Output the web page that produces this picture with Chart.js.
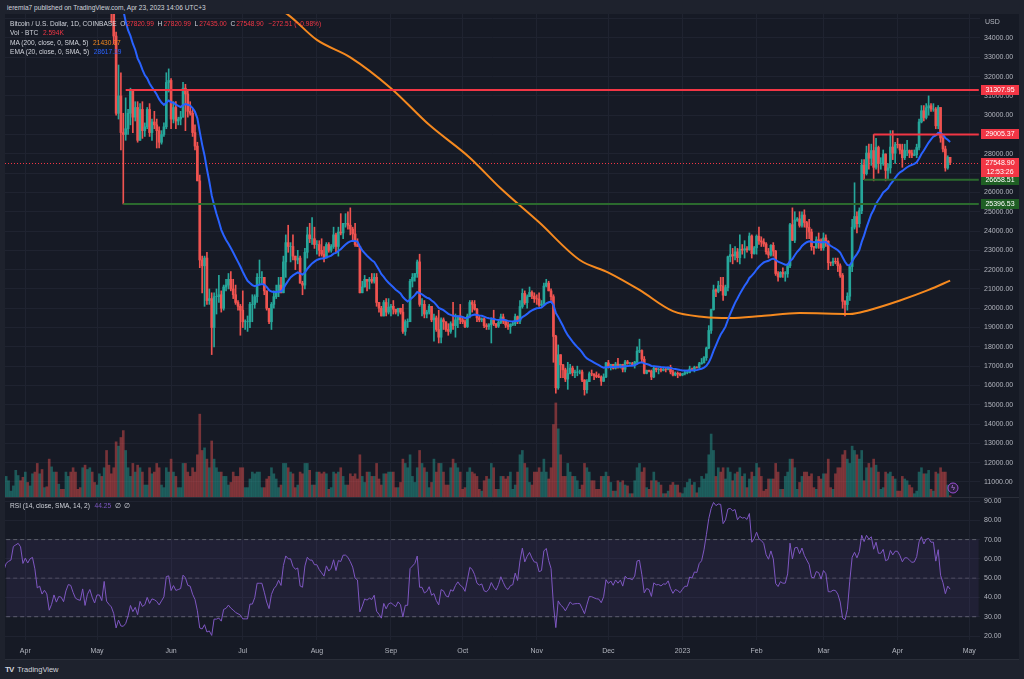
<!DOCTYPE html>
<html>
<head>
<meta charset="utf-8">
<title>Bitcoin / U.S. Dollar, 1D, COINBASE</title>
<script src="https://cdn.jsdelivr.net/npm/chart.js@4.4.1/dist/chart.umd.min.js"></script>
<style>
  body{margin:0;width:1024px;height:679px;overflow:hidden;background:#1e222d;position:relative;font-family:"Liberation Sans",Arial,sans-serif;}
  #head{position:absolute;left:7px;top:3px;font-size:6.6px;line-height:9px;color:#d1d4dc;}
  #frame{position:absolute;left:5px;top:14px;width:1014px;height:645px;background:#161a25;border-bottom:1px solid #2a2e39;}
  #priceWrap{position:absolute;left:0;top:0;width:1014px;height:484px;}
  #rsiWrap{position:absolute;left:0;top:484px;width:1014px;height:161px;}
  #sep{position:absolute;left:0;top:483px;width:1014px;height:1px;background:#2a2e39;}
  .lg{position:absolute;left:5px;font-size:6.6px;line-height:9px;color:#d1d4dc;white-space:nowrap;}
  .lg i{font-style:normal;margin-left:1px;}
  .red{color:#f23645;} .org{color:#f5891f;} .blu{color:#2962ff;} .pur{color:#7e57c2;}
  #foot{position:absolute;left:5px;top:665px;font-size:7.5px;line-height:10px;color:#d1d4dc;}
  #foot b{font-size:8px;letter-spacing:-1px;margin-right:4px;}
</style>
</head>
<body>
<div id="head">ieremia7 published on TradingView.com, Apr 23, 2023 14:06 UTC+3</div>
<div id="frame">
  <div id="priceWrap"><canvas id="priceChart" width="1014" height="484"></canvas></div>
  <div id="rsiWrap"><canvas id="rsiChart" width="1014" height="161"></canvas></div>
  <div id="sep"></div>
  <div class="lg" style="top:5px">Bitcoin / U.S. Dollar, 1D, COINBASE &nbsp;O<i class="red">27820.99</i> &nbsp;H<i class="red">27820.99</i> &nbsp;L<i class="red">27435.00</i> &nbsp;C<i class="red">27548.90</i> &nbsp;<i class="red">−272.51 (−0.98%)</i></div>
  <div class="lg" style="top:14px">Vol · BTC &nbsp;<i class="red">2.594K</i></div>
  <div class="lg" style="top:23.5px">MA (200, close, 0, SMA, 5) &nbsp;<i class="org">21430.37</i></div>
  <div class="lg" style="top:33px">EMA (20, close, 0, SMA, 5) &nbsp;<i class="blu">28617.19</i></div>
  <div class="lg" style="top:487px">RSI (14, close, SMA, 14, 2) &nbsp;<i class="pur">44.25</i> &nbsp;∅ &nbsp;∅</div>
</div>
<div id="foot"><b>TV</b>TradingView</div>

<script>
// daily candles, first one is 2022-03-09, values in thousands of USD
var firstDate = Date.UTC(2022, 2, 9);
var firstOpen = 38.7;

var closes = [
  41.9, 39.4, 38.7, 38.8, 37.8, 39.7, 39.3, 41.1, 40.9, 41.8, 42.2, 41.3, 41.0, 42.4, 42.9, 44.0, 44.3, 44.5, 46.8, 47.1, 47.4, 47.1, 45.5,
  46.3, 45.8, 46.4, 46.6, 45.5, 43.2, 43.4, 42.3, 42.7, 42.2, 39.5, 40.1, 41.1, 39.9, 40.5, 40.4, 39.7, 40.8, 41.5, 41.4, 40.5, 39.7, 39.5, 39.4, 40.4, 38.1, 39.2, 39.7, 38.6, 37.7,
  38.5, 38.5, 37.7, 39.7, 36.6, 36.0, 35.5, 34.1, 30.1, 31.0, 29.1, 29.0, 29.3, 30.1, 31.3, 29.9, 30.4, 28.7, 30.3, 29.2, 29.4, 30.3, 29.1, 29.65, 29.5, 29.2, 28.6, 29.0, 29.4, 31.7, 31.8,
  29.8, 30.4, 29.7, 29.8, 29.9, 31.4, 31.1, 30.2, 30.1, 29.1, 28.4, 26.6, 22.5, 22.2, 22.6, 20.4, 20.5, 19.0, 20.6, 20.6, 20.7, 20.0, 21.1, 21.2, 21.5, 21.0, 20.7, 20.3, 20.1, 19.9,
  19.3, 19.3, 19.3, 20.2, 20.2, 20.6, 21.6, 21.6, 21.6, 20.9, 20.0, 19.3, 20.2, 20.6, 20.8, 21.2, 20.8, 22.4, 23.4, 23.2, 23.2, 22.7, 22.5, 22.6, 21.3, 21.2, 22.9, 23.8, 23.6, 23.6, 23.3,
  23.3, 23.0, 22.8, 22.6, 23.3, 23.0, 23.2, 23.8, 23.2, 23.95, 23.9, 24.4, 24.4, 24.3, 24.1, 23.85, 23.3, 23.2, 20.8, 21.1, 21.5, 21.4, 21.5, 21.4, 21.6, 20.3, 20.0, 19.6, 20.3, 19.8, 20.05,
  20.1, 19.95, 19.8, 20.0, 19.8, 18.8, 19.3, 19.3, 21.4, 21.6, 21.8, 22.4, 20.2, 20.2, 19.7, 19.8, 20.1, 19.4, 19.5, 18.9, 18.5, 19.4, 19.3, 18.9, 18.8, 19.2, 19.1, 19.4, 19.6, 19.4,
  19.3, 19.05, 19.6, 20.3, 20.2, 19.95, 19.5, 19.4, 19.45, 19.1, 19.05, 19.15, 19.4, 19.2, 19.07, 19.26, 19.55, 19.33, 19.13, 19.05, 19.17, 19.2, 19.57, 19.33, 20.09, 20.77, 20.29, 20.6, 20.82, 20.63, 20.49,
  20.48, 20.16, 20.21, 21.15, 21.3, 20.9, 20.6, 18.54, 15.88, 17.59, 17.07, 16.81, 16.33, 16.62, 16.9, 16.66, 16.69, 16.7, 16.7, 16.28, 15.78, 16.2, 16.61, 16.6, 16.52, 16.46, 16.44, 16.22, 16.44, 17.17,
  16.98, 17.09, 16.89, 17.11, 16.97, 17.09, 16.84, 17.22, 17.13, 17.13, 17.09, 17.21, 17.78, 17.81, 17.36, 16.63, 16.78, 16.74, 16.44, 16.9, 16.82, 16.83, 16.78, 16.84, 16.83, 16.92, 16.7, 16.54, 16.63, 16.6, 16.54,
  16.61, 16.67, 16.67, 16.85, 16.83, 16.95, 16.94, 17.12, 17.18, 17.44, 17.94, 18.85, 19.93, 20.95, 20.87, 21.17, 21.16, 20.68, 21.07, 22.67, 22.78, 22.71, 22.92, 22.62, 23.06, 23.01, 23.08, 23.03, 23.74, 22.83, 23.13,
  23.73, 23.49, 23.43, 23.33, 22.93, 22.76, 23.26, 22.96, 21.8, 21.62, 21.86, 21.78, 21.78, 22.2, 24.33, 23.52, 24.57, 24.63, 24.29, 24.83, 24.44, 24.19, 23.95, 23.19, 23.15, 23.55, 23.49, 23.13,
  23.64, 23.47, 22.36, 22.35, 22.43, 22.41, 22.2, 21.7, 20.36, 20.19, 20.62, 22.16, 24.2, 24.75, 24.38, 25.05, 27.42, 26.97, 28.04, 27.77, 28.17, 27.3, 28.33, 27.49, 27.49, 27.99, 27.14, 27.27, 28.35, 28.03, 28.48,
  28.47, 28.2, 27.8, 28.17, 28.17, 28.04, 27.92, 27.95, 28.33, 29.65, 30.23, 29.88, 30.39, 30.49, 30.32, 30.32, 29.45, 30.4, 28.82, 28.25, 27.27, 27.821, 27.5489
];

var highs = [
  42.6, 42.0, 39.9, 39.3, 39.0, 39.9, 39.9, 41.7, 41.4, 42.3, 42.4, 42.3, 41.5, 43.3, 43.0, 44.2, 44.8, 44.8, 46.9, 48.2, 48.1, 47.6, 47.6,
  46.7, 47.2, 47.0, 46.9, 47.2, 45.5, 43.9, 43.9, 42.8, 43.0, 42.4, 40.7, 41.5, 41.5, 40.9, 40.7, 40.6, 41.1, 41.8, 42.2, 42.9, 40.8, 39.9, 39.9, 40.6, 40.8, 39.4, 40.4, 39.9, 38.8,
  38.7, 39.2, 38.6, 40.0, 39.8, 36.6, 36.1, 35.5, 34.3, 32.6, 32.2, 30.1, 30.9, 30.3, 31.4, 31.3, 30.7, 30.7, 30.6, 30.7, 29.6, 30.4, 30.6, 29.8, 30.2, 29.8, 29.4, 29.2, 29.6, 32.2, 32.4,
  31.9, 30.7, 30.7, 29.9, 30.2, 31.7, 31.6, 31.3, 30.7, 30.3, 29.5, 28.6, 26.9, 22.7, 22.7, 22.9, 21.0, 20.8, 20.8, 21.0, 21.7, 20.9, 21.2, 21.5, 21.8, 21.9, 21.5, 21.2, 20.4, 20.2,
  20.9, 19.4, 19.6, 20.3, 20.7, 20.7, 21.8, 22.5, 21.9, 21.6, 20.9, 20.0, 20.3, 20.9, 21.2, 21.6, 21.6, 22.7, 23.8, 24.3, 23.4, 23.8, 22.7, 23.0, 22.7, 21.4, 23.1, 24.2, 24.4, 24.7, 24.2,
  23.5, 23.5, 23.6, 23.2, 23.4, 23.4, 23.3, 24.2, 23.9, 24.2, 24.9, 24.4, 24.9, 25.0, 25.2, 24.2, 24.4, 23.6, 23.2, 21.4, 21.7, 21.5, 21.6, 21.8, 21.8, 21.8, 20.3, 20.1, 20.4, 20.5, 20.5,
  20.2, 20.4, 19.95, 20.0, 20.0, 20.2, 19.4, 19.45, 21.5, 21.8, 21.8, 22.5, 22.8, 20.5, 20.4, 19.9, 20.2, 20.1, 19.7, 19.6, 19.9, 19.5, 19.5, 19.3, 19.2, 19.3, 20.3, 19.7, 19.6, 20.2,
  19.5, 19.4, 19.7, 20.4, 20.4, 20.4, 20.0, 19.6, 19.5, 19.5, 19.2, 19.2, 19.5, 19.9, 19.2, 19.4, 19.7, 19.7, 19.4, 19.3, 19.2, 19.3, 19.7, 19.6, 20.4, 21.0, 20.9, 20.7, 21.1, 20.9, 20.8,
  20.7, 20.8, 20.4, 21.3, 21.5, 21.4, 21.0, 20.7, 18.6, 18.1, 17.6, 17.1, 16.9, 17.2, 17.1, 17.0, 16.8, 17.0, 16.8, 16.8, 16.3, 16.3, 16.7, 16.8, 16.6, 16.7, 16.6, 16.5, 16.6, 17.2,
  17.3, 17.1, 17.1, 17.2, 17.4, 17.1, 17.1, 17.3, 17.3, 17.2, 17.2, 17.25, 18.0, 18.4, 17.85, 17.5, 16.8, 16.8, 16.8, 17.0, 16.9, 16.9, 16.9, 16.9, 16.9, 16.95, 17.05, 16.8, 16.7, 16.7, 16.65,
  16.63, 16.76, 16.8, 17.0, 16.9, 17.0, 16.97, 17.2, 17.4, 17.5, 17.99, 19.1, 19.96, 21.2, 21.0, 21.4, 21.6, 21.6, 21.2, 22.7, 23.3, 23.1, 23.2, 23.1, 23.8, 23.3, 23.5, 23.2, 23.9, 23.8, 23.2,
  23.8, 24.2, 23.7, 23.6, 23.4, 23.1, 23.3, 23.4, 23.0, 21.9, 21.9, 22.1, 21.9, 22.3, 24.4, 25.2, 25.0, 24.7, 25.0, 25.0, 25.1, 24.5, 24.6, 24.1, 23.2, 23.7, 23.9, 23.6,
  23.9, 23.8, 23.5, 22.4, 22.6, 22.6, 22.6, 22.3, 21.8, 20.4, 20.8, 22.2, 24.6, 26.5, 25.0, 25.2, 27.7, 27.7, 28.4, 28.5, 28.5, 29.0, 28.8, 28.4, 27.8, 28.2, 28.0, 27.5, 29.2, 29.2, 28.6,
  28.8, 28.5, 28.5, 28.5, 28.7, 28.2, 28.2, 28.2, 28.5, 29.8, 30.5, 30.5, 30.6, 31.0, 30.6, 30.6, 30.4, 30.5, 30.4, 29.0, 28.4, 27.9, 27.821
];

var lows = [
  38.6, 38.6, 38.2, 38.7, 37.6, 37.6, 38.2, 39.0, 40.2, 40.5, 41.7, 41.0, 40.5, 40.9, 41.8, 42.6, 43.6, 44.1, 44.4, 46.6, 46.9, 46.5, 45.2,
  44.2, 45.5, 45.5, 45.3, 45.4, 43.1, 42.7, 42.1, 42.1, 42.1, 39.2, 39.2, 39.6, 39.6, 39.8, 39.9, 39.6, 38.6, 40.6, 40.9, 39.8, 39.2, 39.3, 38.2, 38.2, 37.8, 37.7, 38.9, 38.2, 37.6,
  37.4, 38.0, 37.5, 37.7, 35.6, 35.3, 34.8, 33.7, 30.0, 29.8, 28.2, 25.4, 28.7, 29.0, 29.5, 29.1, 29.7, 28.6, 28.7, 28.8, 28.9, 29.3, 28.9, 28.7, 29.3, 28.3, 28.3, 28.5, 28.9, 29.3, 31.2,
  29.3, 29.6, 29.3, 29.5, 29.5, 29.9, 29.2, 29.9, 30.0, 28.9, 28.2, 26.6, 22.1, 20.8, 20.1, 20.2, 20.2, 17.6, 18.0, 19.7, 20.3, 19.8, 19.9, 20.9, 21.0, 20.9, 20.5, 20.2, 19.9, 18.6,
  19.0, 18.9, 18.8, 19.0, 19.3, 20.0, 20.3, 21.2, 21.3, 20.7, 19.9, 19.2, 18.9, 20.0, 20.5, 20.6, 20.8, 20.8, 21.6, 22.9, 22.4, 22.5, 22.0, 22.3, 21.3, 20.7, 21.0, 22.6, 23.4, 23.3, 23.1,
  22.8, 22.7, 22.7, 22.4, 22.6, 22.9, 22.9, 23.1, 22.9, 22.7, 23.8, 23.6, 24.2, 24.1, 23.8, 23.5, 23.2, 23.2, 20.8, 20.8, 21.1, 20.9, 21.0, 21.3, 21.3, 20.1, 19.8, 19.6, 19.6, 19.6, 19.7,
  19.6, 19.7, 19.7, 19.6, 19.7, 18.7, 18.6, 19.0, 19.3, 21.1, 21.4, 21.6, 20.1, 19.6, 19.5, 19.5, 19.7, 19.3, 18.3, 18.8, 18.2, 18.2, 18.9, 18.8, 18.6, 18.7, 18.9, 18.5, 19.0, 19.2,
  19.2, 19.0, 19.0, 19.5, 19.8, 19.9, 19.3, 19.3, 19.3, 19.0, 18.9, 18.9, 18.2, 19.1, 19.0, 19.0, 19.2, 19.2, 19.0, 18.9, 18.7, 19.1, 19.1, 19.2, 19.2, 20.0, 20.2, 20.0, 20.6, 20.5, 20.3,
  20.2, 20.1, 20.1, 20.2, 21.1, 20.9, 20.4, 17.2, 15.6, 15.8, 16.4, 16.4, 16.2, 15.8, 16.6, 16.5, 16.4, 16.5, 16.6, 16.2, 15.5, 15.6, 16.2, 16.5, 16.3, 16.4, 16.4, 16.0, 16.2, 16.4,
  16.9, 16.8, 16.85, 16.85, 16.9, 16.9, 16.7, 16.7, 17.1, 17.1, 17.05, 16.9, 17.1, 17.7, 17.2, 16.6, 16.6, 16.7, 16.3, 16.4, 16.7, 16.6, 16.7, 16.75, 16.7, 16.8, 16.6, 16.5, 16.5, 16.4, 16.5,
  16.5, 16.55, 16.6, 16.65, 16.8, 16.7, 16.9, 16.9, 17.1, 17.15, 17.3, 17.9, 18.7, 19.9, 20.6, 20.8, 20.9, 20.4, 20.65, 20.9, 22.4, 22.3, 22.5, 22.4, 22.3, 22.8, 22.6, 22.9, 23.0, 22.6, 22.8,
  22.8, 23.3, 23.2, 23.2, 22.8, 22.6, 22.7, 22.7, 21.7, 21.4, 21.6, 21.6, 21.4, 21.6, 22.1, 23.5, 23.4, 24.5, 24.2, 24.2, 24.2, 23.6, 23.6, 23.0, 22.8, 23.1, 23.1, 23.0,
  23.0, 23.2, 22.0, 22.2, 22.2, 22.3, 21.9, 21.6, 20.0, 19.6, 19.9, 20.4, 21.9, 24.1, 23.9, 24.2, 24.9, 26.66, 26.9, 27.2, 27.4, 26.6, 27.2, 27.0, 27.2, 27.4, 26.6, 26.7, 27.0, 27.7, 27.5,
  28.3, 28.0, 27.3, 27.7, 27.9, 27.8, 27.8, 27.9, 27.8, 28.2, 29.6, 29.7, 29.8, 30.0, 30.2, 30.2, 29.3, 29.3, 28.6, 28.1, 27.1, 27.2, 27.435
];

// volume in thousands of BTC
var volumes = [
  40, 35, 30, 10, 12, 30, 28, 35, 25, 30, 12, 12, 25, 30, 25, 25, 20, 8, 14, 32, 26, 20, 24,
  30, 18, 14, 28, 30, 40, 28, 33, 12, 13, 45, 36, 30, 30, 16, 10, 10, 30, 25, 30, 35, 30, 10, 12, 35, 38, 33, 35, 30, 18,
  15, 28, 25, 35, 55, 38, 28, 35, 65, 60, 70, 78, 55, 35, 25, 40, 30, 38, 35, 30, 15, 15, 35, 28, 30, 40, 35, 15, 12, 35, 30,
  45, 30, 25, 12, 12, 40, 40, 30, 25, 35, 30, 50, 97, 55, 58, 45, 35, 66, 45, 35, 30, 30, 25, 25, 15, 18, 30, 25, 25, 35,
  35, 12, 12, 22, 30, 28, 30, 30, 12, 12, 22, 25, 35, 28, 22, 12, 15, 40, 40, 35, 30, 28, 12, 15, 30, 28, 40, 40, 32, 15, 15,
  30, 30, 28, 30, 28, 10, 12, 30, 28, 30, 35, 25, 15, 15, 28, 25, 28, 22, 50, 25, 18, 30, 30, 25, 25, 40, 22, 15, 28, 28, 30,
  30, 30, 12, 12, 18, 45, 40, 35, 50, 25, 18, 35, 55, 40, 35, 30, 12, 18, 45, 30, 40, 40, 30, 15, 15, 35, 45, 40, 35, 30,
  10, 12, 30, 35, 30, 28, 25, 10, 8, 20, 25, 22, 40, 35, 10, 10, 25, 25, 22, 25, 30, 10, 15, 30, 50, 55, 40, 35, 18, 15, 30,
  30, 35, 30, 45, 30, 22, 35, 85, 110, 80, 50, 25, 25, 40, 30, 25, 25, 20, 10, 15, 40, 35, 30, 20, 20, 10, 10, 25, 25, 30,
  25, 18, 8, 8, 20, 18, 20, 15, 14, 5, 5, 20, 35, 40, 30, 35, 12, 10, 20, 30, 20, 18, 15, 5, 5, 8, 15, 18, 15, 15, 6,
  5, 12, 18, 22, 15, 18, 6, 12, 25, 22, 28, 50, 74, 55, 25, 35, 30, 35, 22, 35, 30, 20, 28, 30, 35, 25, 28, 12, 22, 30, 25,
  40, 35, 25, 8, 10, 22, 22, 22, 40, 30, 10, 10, 25, 30, 45, 45, 35, 10, 18, 25, 30, 30, 25, 28, 12, 10, 25, 22,
  28, 28, 45, 12, 10, 28, 35, 35, 50, 55, 45, 40, 60, 55, 50, 45, 55, 20, 35, 40, 35, 45, 38, 30, 10, 12, 30, 28, 30, 25, 22,
  8, 8, 25, 22, 20, 15, 12, 5, 8, 30, 35, 28, 28, 32, 10, 8, 30, 28, 35, 30, 30, 15, 2.6
];

// MA 200
var maDates = ['2022-07-10', '2022-07-20', '2022-08-01', '2022-08-15', '2022-09-01', '2022-09-17', '2022-10-04', '2022-10-17', '2022-11-02', '2022-11-19', '2022-12-01', '2022-12-14', '2022-12-28', '2023-01-10', '2023-01-21', '2023-02-03', '2023-02-19', '2023-03-12', '2023-03-20', '2023-04-02', '2023-04-14', '2023-04-23'];
var maValues = [35.9, 35.2, 33.9, 33.0, 31.4, 29.5, 27.8, 26.2, 24.45, 22.5, 21.85, 20.95, 19.85, 19.55, 19.5, 19.6, 19.75, 19.7, 19.9, 20.4, 20.95, 21.43];

// horizontal levels drawn on the chart
var levelStart = ['2022-05-13', '2022-05-12', '2023-03-22', '2023-03-18'];
var levelValue = [31.30795, 25.39653, 29.00537, 26.65851];
var levelKind = ['res', 'sup', 'res', 'sup'];
var levelText = ['31307.95', '25396.53', '29005.37', '26658.51'];

var lastText = '27548.90';
var countdown = '12:53:26';
var monthNames = ['Jan', 'Feb', 'Mar', 'Apr', 'May', 'Jun', 'Jul', 'Aug', 'Sep', 'Oct', 'Nov', 'Dec'];

var viewMin = '2022-03-24';
var viewMax = '2023-05-05';

if (closes.length !== highs.length || closes.length !== lows.length || closes.length !== volumes.length) {
  throw new Error('length mismatch ' + closes.length + ' ' + highs.length + ' ' + lows.length + ' ' + volumes.length);
}

var UP = '#26a69a', DOWN = '#ef5350', RED = '#f23645', GREEN = '#2b6a2e', GRID = '#1f2330', TXT = '#b2b5be';
Chart.defaults.font.family = '"Liberation Sans", Arial, sans-serif';

var labels = [];
for (var i = 0; i < closes.length + 12; i++) {
  labels.push(new Date(firstDate + i * 86400000).toISOString().slice(0, 10));
}

var opens = [], wicks = [], bodies = [], candleColors = [], volColors = [];
for (var i = 0; i < closes.length; i++) {
  opens.push(i === 0 ? firstOpen : closes[i - 1]);
  wicks.push([lows[i], highs[i]]);
  bodies.push([opens[i], closes[i]]);
  var up = closes[i] >= opens[i];
  candleColors.push(up ? UP : DOWN);
  volColors.push(up ? 'rgba(38,166,154,0.45)' : 'rgba(239,83,80,0.45)');
}

// EMA 20
var ema = [];
var k = 2 / 21;
for (var i = 0; i < closes.length; i++) {
  ema.push(i === 0 ? closes[0] : closes[i] * k + ema[i - 1] * (1 - k));
}

// RSI 14 (wilder)
var rsi = [null];
var avgUp = 0, avgDn = 0;
for (var i = 1; i < closes.length; i++) {
  var ch = closes[i] - closes[i - 1];
  var u = Math.max(ch, 0), d = Math.max(-ch, 0);
  if (i <= 14) {
    avgUp += u / 14; avgDn += d / 14;
    rsi.push(i === 14 ? 100 - 100 / (1 + avgUp / avgDn) : null);
  } else {
    avgUp = (avgUp * 13 + u) / 14;
    avgDn = (avgDn * 13 + d) / 14;
    rsi.push(avgDn === 0 ? 100 : 100 - 100 / (1 + avgUp / avgDn));
  }
}

var maPoints = maDates.map(function(dt, j){ return {x: dt, y: maValues[j]}; });

function isMonthStart(idx) {
  return labels[idx] && labels[idx].slice(8) === '01';
}
function monthGrid(c) {
  return (c.tick && isMonthStart(c.tick.value)) ? GRID : 'rgba(0,0,0,0)';
}

var levelSets = levelStart.map(function(s, j){
  return {
    type: 'line',
    data: [{x: s, y: levelValue[j]}, {x: viewMax, y: levelValue[j]}],
    borderColor: levelKind[j] === 'res' ? RED : GREEN,
    borderWidth: 2,
    pointRadius: 0,
    order: 1
  };
});

function tag(ctx, area, w, y, h, color, lines) {
  ctx.fillStyle = color;
  ctx.fillRect(area.right + 1, Math.round(y - 5), w - area.right - 1, h);
  ctx.fillStyle = '#ffffff';
  for (var n = 0; n < lines.length; n++) {
    ctx.fillText(lines[n], (area.right + 1 + w) / 2, Math.round(y - 5) + 5 + n * 9);
  }
}

var priceTags = {
  id: 'priceTags',
  beforeDatasetsDraw: function(chart) {
    var ctx = chart.ctx, area = chart.chartArea;
    var py = Math.round(chart.scales.y.getPixelForValue(closes[closes.length - 1])) + 0.5;
    ctx.save();
    ctx.strokeStyle = RED;
    ctx.lineWidth = 1;
    ctx.setLineDash([1, 2]);
    ctx.beginPath();
    ctx.moveTo(area.left, py);
    ctx.lineTo(area.right, py);
    ctx.stroke();
    ctx.restore();
  },
  afterDraw: function(chart) {
    var ctx = chart.ctx, area = chart.chartArea, ys = chart.scales.y, w = chart.width;
    ctx.save();
    ctx.font = '7px "Liberation Sans", Arial, sans-serif';
    ctx.textAlign = 'center';
    ctx.textBaseline = 'middle';
    for (var j = 0; j < levelValue.length; j++) {
      tag(ctx, area, w, ys.getPixelForValue(levelValue[j]), 10, levelKind[j] === 'res' ? RED : '#1f5f24', [levelText[j]]);
    }
    tag(ctx, area, w, ys.getPixelForValue(closes[closes.length - 1]), 19, RED, [lastText, countdown]);
    ctx.textAlign = 'left';
    ctx.fillStyle = TXT;
    ctx.fillText('USD', area.right + 5, 8);
    // little alert icon at bottom of the pane
    ctx.strokeStyle = '#9c4fd6';
    ctx.fillStyle = '#2a1f3d';
    ctx.lineWidth = 1;
    ctx.beginPath();
    ctx.arc(948, 474, 5, 0, Math.PI * 2);
    ctx.fill();
    ctx.stroke();
    ctx.fillStyle = '#b57ee8';
    ctx.textAlign = 'center';
    ctx.fillText('ϟ', 948, 474);
    ctx.restore();
  }
};

new Chart(document.getElementById('priceChart'), {
  type: 'bar',
  data: {
    labels: labels,
    datasets: [
      {label: 'ema', type: 'line', data: ema, borderColor: '#2962ff', borderWidth: 2, pointRadius: 0, order: 2},
      {label: 'ma200', type: 'line', data: maPoints, borderColor: '#f5891f', borderWidth: 2, pointRadius: 0, cubicInterpolationMode: 'monotone', order: 3},
      {label: 'body', data: bodies, backgroundColor: candleColors, barThickness: 2, grouped: false, order: 4},
      {label: 'wick', data: wicks, backgroundColor: candleColors, barThickness: 1, grouped: false, order: 5},
      {label: 'vol', data: volumes, yAxisID: 'yv', backgroundColor: volColors, barThickness: 2, grouped: false, order: 10}
    ].concat(levelSets)
  },
  options: {
    responsive: false,
    animation: false,
    devicePixelRatio: 1,
    layout: {padding: 0},
    plugins: {legend: {display: false}, tooltip: {enabled: false}},
    scales: {
      x: {
        type: 'category', min: viewMin, max: viewMax, offset: true,
        grid: {offset: false, drawTicks: false, color: monthGrid},
        border: {display: false},
        ticks: {display: false, autoSkip: false},
        afterFit: function(s){ s.height = 0; s.paddingLeft = 0; s.paddingRight = 0; }
      },
      y: {
        position: 'right', min: 10.17, max: 35.243,
        grid: {color: GRID, drawTicks: false},
        border: {display: false},
        ticks: {
          stepSize: 1, includeBounds: false, padding: 4, color: TXT, font: {size: 7},
          callback: function(v){ return v > 34.5 ? '' : (v * 1000).toFixed(2); }
        },
        afterFit: function(s){ s.width = 39; s.paddingTop = 0; s.paddingBottom = 0; }
      },
      yv: {display: false, min: 0, max: 560}
    }
  },
  plugins: [priceTags]
});

function flatLine(v) {
  return [{x: viewMin, y: v}, {x: viewMax, y: v}];
}

new Chart(document.getElementById('rsiChart'), {
  type: 'line',
  data: {
    labels: labels,
    datasets: [
      {label: 'rsi', data: rsi, borderColor: '#7e57c2', borderWidth: 1, pointRadius: 0, order: 1},
      {label: 'upper', data: flatLine(70), borderColor: '#5d606b', borderWidth: 1, borderDash: [4, 3], pointRadius: 0, fill: '+2', backgroundColor: 'rgba(126,87,194,0.1)', order: 2},
      {label: 'middle', data: flatLine(50), borderColor: '#4a4d57', borderWidth: 1, borderDash: [4, 3], pointRadius: 0, order: 2},
      {label: 'lower', data: flatLine(30), borderColor: '#5d606b', borderWidth: 1, borderDash: [4, 3], pointRadius: 0, order: 2}
    ]
  },
  options: {
    responsive: false,
    animation: false,
    devicePixelRatio: 1,
    layout: {padding: 0},
    plugins: {legend: {display: false}, tooltip: {enabled: false}},
    scales: {
      x: {
        type: 'category', min: viewMin, max: viewMax, offset: true,
        grid: {offset: false, drawTicks: false, color: monthGrid},
        border: {display: false},
        ticks: {
          autoSkip: false, maxRotation: 0, padding: 7, color: TXT, font: {size: 7},
          callback: function(v){
            if (!isMonthStart(v)) return '';
            var m = +labels[v].slice(5, 7);
            return m === 1 ? labels[v].slice(0, 4) : monthNames[m - 1];
          }
        },
        afterFit: function(s){ s.height = 19; s.paddingLeft = 0; s.paddingRight = 0; }
      },
      y: {
        position: 'right', min: 17.93, max: 91.56,
        grid: {color: GRID, drawTicks: false},
        border: {display: false},
        ticks: {
          stepSize: 10, includeBounds: false, padding: 4, color: TXT, font: {size: 7},
          callback: function(v){ return v.toFixed(2); }
        },
        afterFit: function(s){ s.width = 39; s.paddingTop = 0; s.paddingBottom = 0; }
      }
    }
  }
});
</script>
</body>
</html>
